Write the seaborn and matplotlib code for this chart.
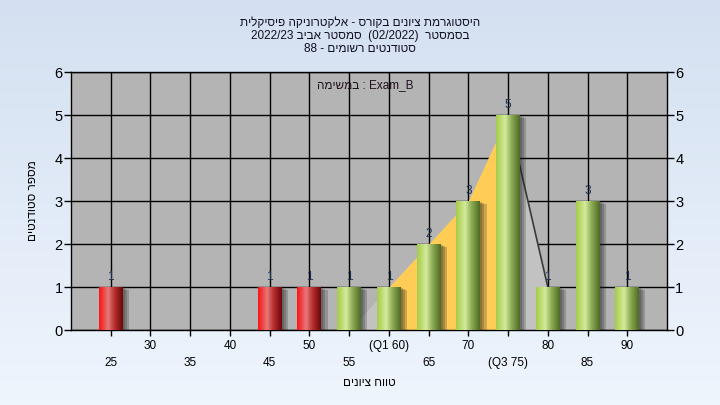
import re

import matplotlib

matplotlib.use('Agg')

import numpy as np
import pandas as pd
import seaborn as sns
import matplotlib.pyplot as plt
from matplotlib import patheffects
from matplotlib.colors import LinearSegmentedColormap

# chart data
scores = [25, 45, 50, 55, 60, 65, 70, 75, 80, 85, 90]
counts = [1, 1, 1, 1, 1, 2, 3, 5, 1, 3, 1]
pass_mark = 55
q1, q3 = 60, 75
poly_x = [55, 60, 65, 70, 75, 80]
poly_y = [0, 1, 2, 3, 5, 1]
tick_vals = [25, 30, 35, 40, 45, 50, 55, 60, 65, 70, 75, 80, 85, 90]
tick_text = ['25', '30', '35', '40', '45', '50', '55', '(Q1 60)', '65', '70', '(Q3 75)', '80', '85', '90']

title_lines = [
    "היסטוגרמת ציונים בקורס - אלקטרוניקה פיסיקלית",
    "בסמסטר  (02/2022)  סמסטר אביב 2022/23",
    "סטודנטים רשומים - 88",
]
legend_text = "Exam_B : במשימה"
x_title = "טווח ציונים"
y_title = "מספר סטודנטים"


def rtl(s):
    # matplotlib has no bidi support, so lay the hebrew out by hand
    r = s[::-1]
    r = re.sub(r'[A-Za-z0-9_/.]+', lambda m: m.group(0)[::-1], r)
    return r.translate(str.maketrans('()', ')('))


FONT = ['Liberation Sans', 'DejaVu Sans']
plt.rcParams['font.family'] = FONT

df = pd.DataFrame({'score': scores, 'count': counts})
df['grp'] = np.where(df['score'] < pass_mark, 'fail', 'pass')

fig = plt.figure(figsize=(7.2, 4.05), dpi=100)

# light blue gradient background
bg = fig.add_axes([0, 0, 1, 1], zorder=-10)
bg_cmap = LinearSegmentedColormap.from_list('bg', ['#eef5fd', '#d4e0f1'])
bg.imshow(np.linspace(0, 1, 100)[:, None], aspect='auto', cmap=bg_cmap,
          origin='lower', extent=[0, 1, 0, 1])
bg.axis('off')

ax = fig.add_axes([0.0986, 0.185, 0.8278, 0.637])
ax.set_facecolor('#b4b4b4')

# quartile area + frequency polygon
px = np.array(poly_x)
py = np.array(poly_y)
ax.fill_between(px, py, color='#c2c2c2', zorder=1, lw=0)
mask = (px >= q1) & (px <= q3)
ax.fill_between(px[mask], py[mask], color='#ffcc55', zorder=1.2, lw=0)
ax.plot(px[px >= q3], py[px >= q3], color='#3a3a3a', lw=1.2, zorder=1.4)

sns.barplot(data=df, x='score', y='count', hue='grp', hue_order=['fail', 'pass'],
            palette={'fail': '#d02020', 'pass': '#90b848'}, native_scale=True,
            dodge=False, width=0.6, errorbar=None, legend=False, ax=ax)

cmaps = {
    'fail': LinearSegmentedColormap.from_list(
        'red', [(0, '#ff1414'), (0.15, '#ee3a3a'), (0.38, '#e87878'),
                (0.65, '#b83030'), (1, '#6e0606')]),
    'pass': LinearSegmentedColormap.from_list(
        'grn', [(0, '#a6ca4e'), (0.15, '#b8d866'), (0.38, '#d4ea9e'),
                (0.65, '#8eac54'), (1, '#4e6c24')]),
}
# soft shadow: a few stacked offsets
shadow = [patheffects.SimplePatchShadow(offset=(d, -d / 2), shadow_rgbFace='#202020', alpha=0.22)
          for d in (1.5, 3, 4.5)] + [patheffects.Normal()]
grad = np.linspace(0, 1, 64)[None, :]
for grp, cont in zip(['fail', 'pass'], ax.containers):
    for bar in cont:
        bar.set_zorder(2.5)
        bar.set_path_effects(shadow)
        x0, w, h = bar.get_x(), bar.get_width(), bar.get_height()
        im = ax.imshow(grad, aspect='auto', cmap=cmaps[grp],
                       extent=[x0, x0 + w, 0, h], zorder=2.6)
        im.set_clip_path(bar)
    ax.bar_label(cont, padding=3, fontsize=8.5, color='#1c3050', zorder=4)

ax.set_xlim(20, 95)
ax.set_ylim(0, 6)
ax.set_xticks(tick_vals)
ax.set_xticklabels([t if i % 2 else '\n' + t for i, t in enumerate(tick_text)])
for lbl in ax.get_xticklabels():
    lbl.set_linespacing(1.55)
ax.set_yticks(range(0, 7))
ax.tick_params(axis='x', direction='out', length=4, width=1, labelsize=8.5, pad=3, color='black')
ax.tick_params(axis='y', direction='out', length=5, width=1, labelsize=10.5, pad=1,
               right=True, labelright=True, color='black')
ax.grid(True, color='black', lw=1, zorder=0.5)
ax.set_axisbelow(True)
for sp in ax.spines.values():
    sp.set_color('black')
    sp.set_linewidth(1)

ax.set_xlabel(rtl(x_title), fontsize=8.5, labelpad=6)
ax.set_ylabel(rtl(y_title), fontsize=8.5, labelpad=11)
ax.text(0.493, 0.95, rtl(legend_text), transform=ax.transAxes, ha='center',
        va='center', fontsize=8.5, color='#201020')

fig.text(0.5, 0.958, '\n'.join(rtl(t) for t in title_lines), ha='center', va='top',
         fontsize=8.5, linespacing=1.1, color='#101020')

fig.savefig('out.png', dpi=100)
